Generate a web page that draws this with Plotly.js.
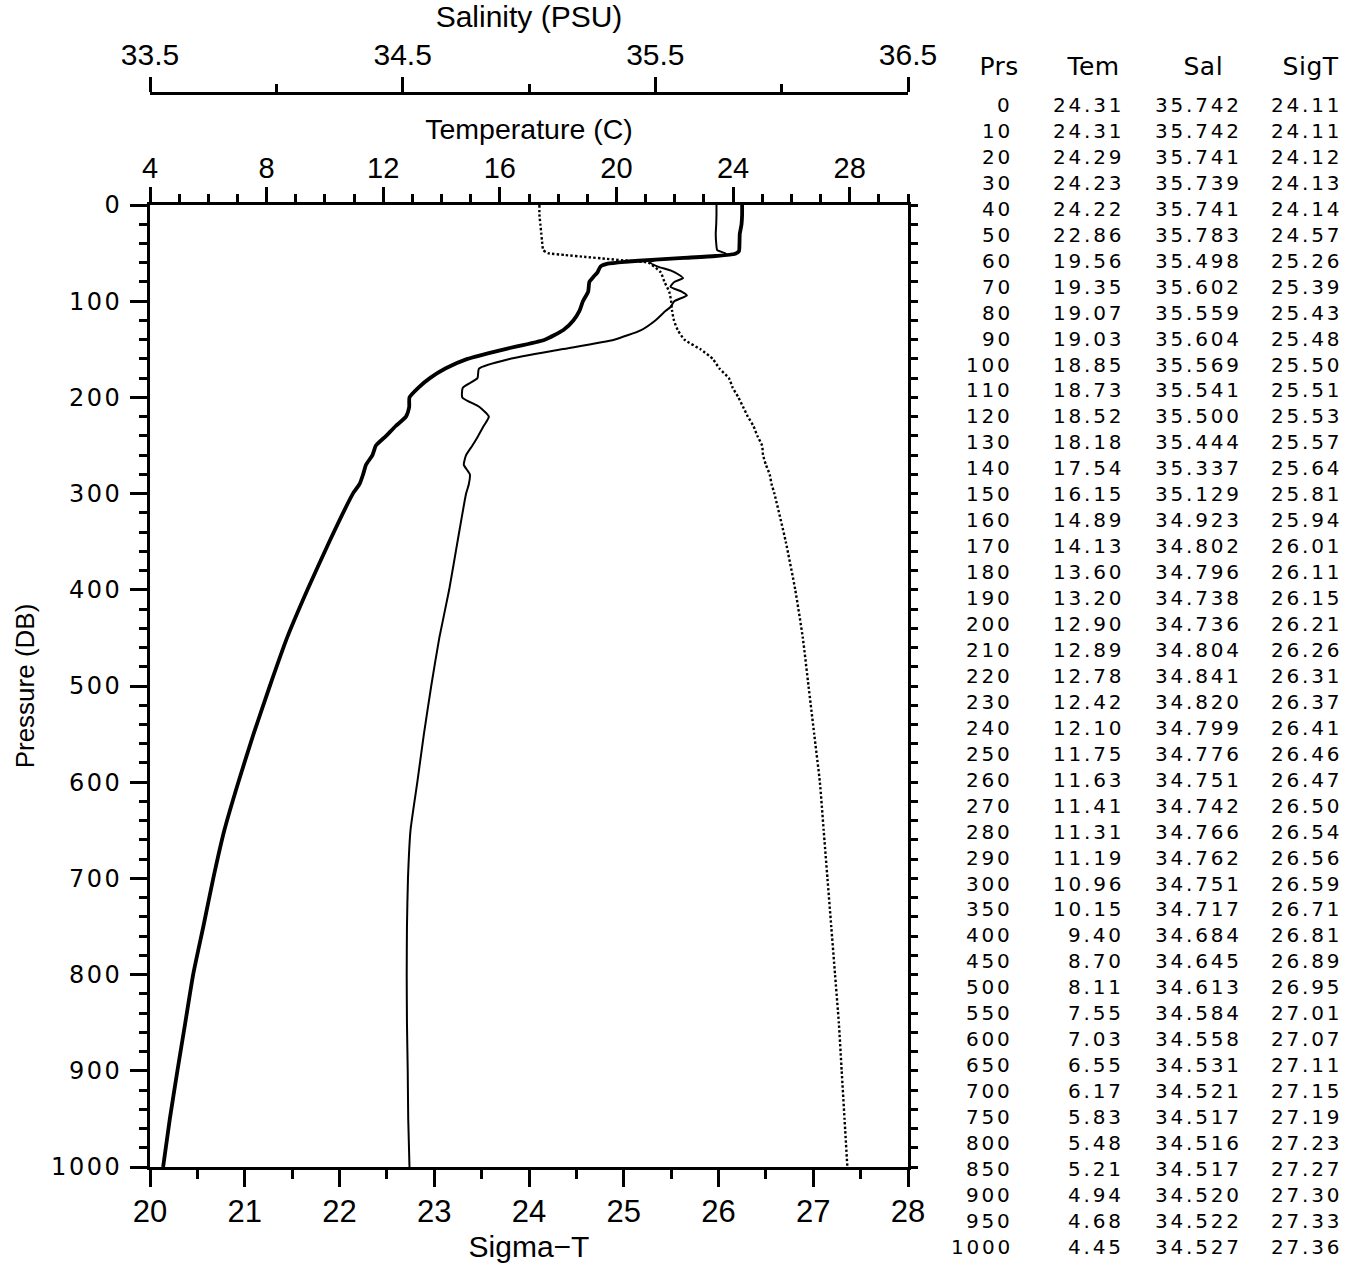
<!DOCTYPE html>
<html><head><meta charset="utf-8">
<script src="https://cdn.plot.ly/plotly-3.0.1.min.js"></script>
<style>
html,body{margin:0;padding:0;background:#fff;}
#chart{width:1361px;height:1265px;}
.ytick text{letter-spacing:2.5px;}
.annotation-text{letter-spacing:2.8px;}
.annotation[data-index="0"] .annotation-text,
.annotation[data-index="1"] .annotation-text,
.annotation[data-index="2"] .annotation-text,
.annotation[data-index="3"] .annotation-text{letter-spacing:0.5px;}
</style></head><body><div id="chart"></div>
<script>
// ---- table values (right-hand listing) ----
const prs = [0,10,20,30,40,50,60,70,80,90,100,110,120,130,140,150,160,170,180,190,200,210,220,230,240,250,260,270,280,290,300,350,400,450,500,550,600,650,700,750,800,850,900,950,1000];
const tem = [24.31,24.31,24.29,24.23,24.22,22.86,19.56,19.35,19.07,19.03,18.85,18.73,18.52,18.18,17.54,16.15,14.89,14.13,13.60,13.20,12.90,12.89,12.78,12.42,12.10,11.75,11.63,11.41,11.31,11.19,10.96,10.15,9.40,8.70,8.11,7.55,7.03,6.55,6.17,5.83,5.48,5.21,4.94,4.68,4.45];
const sal = [35.742,35.742,35.741,35.739,35.741,35.783,35.498,35.602,35.559,35.604,35.569,35.541,35.500,35.444,35.337,35.129,34.923,34.802,34.796,34.738,34.736,34.804,34.841,34.820,34.799,34.776,34.751,34.742,34.766,34.762,34.751,34.717,34.684,34.645,34.613,34.584,34.558,34.531,34.521,34.517,34.516,34.517,34.520,34.522,34.527];
const sigt = [24.11,24.11,24.12,24.13,24.14,24.57,25.26,25.39,25.43,25.48,25.50,25.51,25.53,25.57,25.64,25.81,25.94,26.01,26.11,26.15,26.21,26.26,26.31,26.37,26.41,26.46,26.47,26.50,26.54,26.56,26.59,26.71,26.81,26.89,26.95,27.01,27.07,27.11,27.15,27.19,27.23,27.27,27.30,27.33,27.36];
const tableHeaders = ['Prs','Tem','Sal','SigT'];

// ---- profile curves ----
const temDepth = [0,10,20,30,40,48,51,53,55,57,59,61,64,70,75,80,90,100,110,120,130,140,150,160,170,180,190,200,210,220,230,240,250,260,270,280,290,300,350,400,450,500,550,600,650,700,750,800,850,900,950,1000];
const temCurve = [24.31,24.31,24.29,24.23,24.22,24.20,24.05,23.4,22.3,21.2,20.3,19.7,19.45,19.35,19.2,19.07,19.03,18.85,18.73,18.52,18.18,17.54,16.15,14.89,14.13,13.60,13.20,12.90,12.89,12.78,12.42,12.10,11.75,11.63,11.41,11.31,11.19,10.96,10.15,9.40,8.70,8.11,7.55,7.03,6.55,6.17,5.83,5.48,5.21,4.94,4.68,4.45];

const salDepth = [0,10,20,30,40,47,50,52,54,56,58,60,64,68,72,76,80,85,90,94,100,106,110,120,130,140,150,160,170,180,190,200,210,220,230,240,250,260,270,280,290,300,350,400,450,500,550,600,650,700,750,800,850,900,950,1000];
const salCurve = [35.742,35.742,35.741,35.739,35.741,35.745,35.775,35.783,35.70,35.56,35.49,35.48,35.51,35.56,35.59,35.61,35.575,35.56,35.604,35.625,35.575,35.56,35.541,35.500,35.444,35.337,35.129,34.923,34.802,34.796,34.738,34.736,34.804,34.841,34.820,34.799,34.776,34.751,34.742,34.766,34.762,34.751,34.717,34.684,34.645,34.613,34.584,34.558,34.531,34.521,34.517,34.516,34.517,34.520,34.522,34.527];

const sigDepth = [0,10,20,30,40,47,50,52,54,56,58,60,70,80,90,100,110,120,130,140,150,160,170,180,190,200,210,220,230,240,250,260,270,280,290,300,350,400,450,500,550,600,650,700,750,800,850,900,950,1000];
const sigCurve = [24.11,24.11,24.12,24.13,24.14,24.15,24.2,24.38,24.6,24.82,25.05,25.26,25.39,25.43,25.48,25.50,25.51,25.53,25.57,25.64,25.81,25.94,26.01,26.11,26.15,26.21,26.26,26.31,26.37,26.41,26.46,26.47,26.50,26.54,26.56,26.59,26.71,26.81,26.89,26.95,27.01,27.07,27.11,27.15,27.19,27.23,27.27,27.30,27.33,27.36];

// ---- geometry ----
const W = 1361, H = 1265;
const M = {l:150, r:453, t:93, b:98};
const PW = W - M.l - M.r, PH = H - M.t - M.b;
const plotTopPx = 205;
const yDomTop = (H - M.b - plotTopPx) / PH;
const px2x = px => (px - M.l) / PW;
const py2y = py => (H - M.b - py) / PH;

const axFont = {family:'Liberation Sans, Arial, sans-serif', color:'#000'};
const tabFont = {family:'DejaVu Sans, Verdana, sans-serif', color:'#000'};

const traces = [
  {x: salCurve, y: salDepth, xaxis:'x3', yaxis:'y', mode:'lines', name:'Salinity',
   line:{color:'#000', width:2, shape:'spline', smoothing:0.5}, hoverinfo:'skip'},
  {x: sigCurve, y: sigDepth, xaxis:'x2', yaxis:'y2', mode:'lines', name:'Sigma-T',
   line:{color:'#000', width:2.4, dash:'2.4px,2.2px', shape:'spline', smoothing:0.5}, hoverinfo:'skip'},
  {x: temCurve, y: temDepth, xaxis:'x', yaxis:'y', mode:'lines', name:'Temperature',
   line:{color:'#000', width:3.8, shape:'spline', smoothing:0.5}, hoverinfo:'skip'}
];

const annotations = [];
const hdrCenters = [999, 1093, 1203, 1310];
const colRight = [1015, 1126, 1244, 1344];
tableHeaders.forEach((h,i) => annotations.push({
  xref:'paper', yref:'paper', x:px2x(hdrCenters[i]), y:py2y(66), xanchor:'center', yanchor:'middle',
  text:h, showarrow:false, font:Object.assign({size:25}, tabFont)
}));
const cols = [prs.map(v=>String(v)), tem.map(v=>v.toFixed(2)), sal.map(v=>v.toFixed(3)), sigt.map(v=>v.toFixed(2))];
for (let r = 0; r < prs.length; r++) {
  const yc = 105 + r * 25.95;
  for (let c = 0; c < 4; c++) {
    annotations.push({xref:'paper', yref:'paper', x:px2x(colRight[c]), y:py2y(yc),
      xanchor:'right', yanchor:'middle', align:'right', text:cols[c][r], showarrow:false,
      font:Object.assign({size:20}, tabFont)});
  }
}

const baseAx = {showgrid:false, zeroline:false, showline:true, linecolor:'#000', linewidth:3,
  ticks:'outside', tickcolor:'#000', tickwidth:3};

const layout = {
  width:W, height:H, margin:M, showlegend:false, paper_bgcolor:'#fff', plot_bgcolor:'#fff',
  xaxis: Object.assign({}, baseAx, {domain:[0,1], anchor:'y', side:'top', range:[4,30],
    tick0:4, dtick:4, ticklen:15, ticklabelstandoff:-3, tickfont:Object.assign({size:29}, axFont),
    minor:{dtick:1, tick0:4, ticks:'outside', ticklen:8, tickwidth:3, tickcolor:'#000'},
    title:{text:'Temperature (C)', font:Object.assign({size:28.5}, axFont), standoff:5}}),
  xaxis2: Object.assign({}, baseAx, {overlaying:'x', anchor:'y', side:'bottom', range:[20,28],
    tick0:20, dtick:1, ticklen:17, ticklabelstandoff:-2, tickfont:Object.assign({size:31}, axFont),
    minor:{dtick:0.5, tick0:20, ticks:'outside', ticklen:9, tickwidth:3, tickcolor:'#000'},
    title:{text:'Sigma\u2212T', font:Object.assign({size:30}, axFont), standoff:8}}),
  xaxis3: Object.assign({}, baseAx, {overlaying:'x', anchor:'free', position:1, side:'top', range:[33.5,36.5],
    tick0:33.5, dtick:1, ticklen:15, tickfont:Object.assign({size:30}, axFont),
    minor:{dtick:0.5, tick0:33.5, ticks:'outside', ticklen:8, tickwidth:3, tickcolor:'#000'},
    title:{text:'Salinity (PSU)', font:Object.assign({size:30}, axFont), standoff:3}}),
  yaxis: Object.assign({}, baseAx, {domain:[0,yDomTop], anchor:'x', side:'left', range:[1000,0],
    tick0:0, dtick:100, ticklen:17, ticklabelstandoff:3, tickfont:Object.assign({size:24}, tabFont),
    minor:{dtick:20, tick0:0, ticks:'outside', ticklen:8, tickwidth:3, tickcolor:'#000'},
    title:{text:'Pressure (DB)', font:Object.assign({size:26}, axFont), standoff:10}}),
  yaxis2: Object.assign({}, baseAx, {domain:[0,yDomTop], anchor:'x', overlaying:'y', side:'right', range:[1000,0],
    tick0:0, dtick:20, ticklen:7, showticklabels:false}),
  annotations: annotations
};

Plotly.newPlot('chart', traces, layout, {staticPlot:true, displayModeBar:false});
</script></body></html>
